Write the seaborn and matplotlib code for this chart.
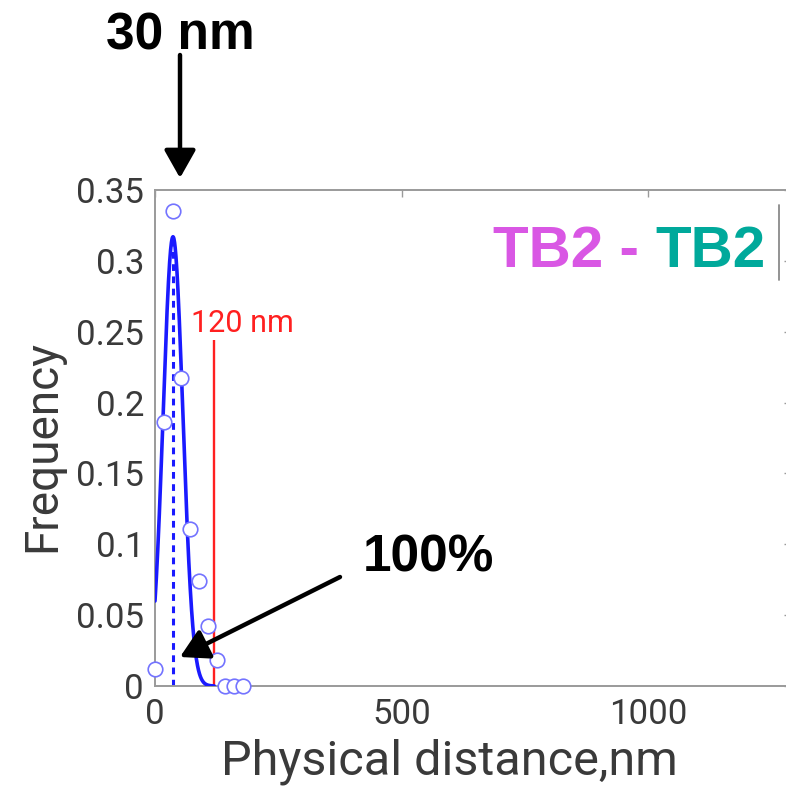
import numpy as np
import pandas as pd
import matplotlib
matplotlib.use("Agg")
import matplotlib.pyplot as plt
from matplotlib.lines import Line2D
import seaborn as sns

# Binned distance histogram (bin centre in nm, relative frequency)
bin_centers = [0, 18, 36, 53, 71, 89, 107, 125, 142, 160, 178]
frequencies = [0.012, 0.186, 0.335, 0.217, 0.111, 0.074, 0.042, 0.018, 0.0, 0.0, 0.0]

# Gaussian fit parameters
fit_amplitude = 0.317
fit_mean = 36.5
fit_sigma = 20.0

# Threshold marker
threshold_nm = 120
threshold_top = 0.244

x_ticks = [0, 500, 1000]
y_ticks = [0, 0.05, 0.1, 0.15, 0.2, 0.25, 0.3, 0.35]
y_tick_labels = ["0", "0.05", "0.1", "0.15", "0.2", "0.25", "0.3", "0.35"]

sns.set_theme(style="white")
plt.rcParams["font.family"] = ["Roboto", "DejaVu Sans"]

W, H = 786, 790
fig = plt.figure(figsize=(W / 100, H / 100), dpi=100)
ax = fig.add_axes([155 / W, 1 - 686 / H, (791 - 155) / W, (686 - 190) / H])

hist_df = pd.DataFrame({"distance": bin_centers, "frequency": frequencies})
fit_x = np.linspace(0, 120, 300)
fit_df = pd.DataFrame({
    "distance": fit_x,
    "frequency": fit_amplitude * np.exp(-(fit_x - fit_mean) ** 2 / (2 * fit_sigma ** 2)),
})

blue = "#1a1aff"
sns.lineplot(data=fit_df, x="distance", y="frequency", ax=ax, color=blue,
             lw=2.6, zorder=3)
ax.vlines(fit_mean, 0, fit_amplitude, colors=blue, linestyles=(0, (2.2, 1.8)),
          lw=2.2, zorder=2)
ax.vlines(threshold_nm, 0, threshold_top, colors="#ff2020", lw=1.7, zorder=2)
ax.text(74, 0.250, f"{threshold_nm} nm", color="#ff2020", fontsize=22,
        ha="left", va="baseline")

sns.scatterplot(data=hist_df, x="distance", y="frequency", ax=ax, marker="o",
                s=110, facecolor="white", edgecolor="#7373ff", linewidth=1.2,
                zorder=4, clip_on=False)

ax.set_xlim(0, (791 - 155) / 0.493)
ax.set_ylim(0, 0.35)
ax.set_xticks(x_ticks)
ax.set_xticklabels([str(v) for v in x_ticks])
ax.set_yticks(y_ticks)
ax.set_yticklabels(y_tick_labels)

for side in ["left", "right", "top", "bottom"]:
    ax.spines[side].set_color("#9a9a9a")
    ax.spines[side].set_linewidth(1.4)
ax.tick_params(axis="both", which="both", direction="in", length=5, width=1,
               color="#9a9a9a", labelsize=25, labelcolor="#3a3a3a",
               top=True, right=True)
ax.tick_params(axis="x", pad=9)
ax.tick_params(axis="y", pad=8)

ax.set_xlabel("Physical distance,nm", fontsize=35, color="#3a3a3a")
ax.set_ylabel("Frequency", fontsize=33, color="#3a3a3a")
ax.xaxis.set_label_coords((449 - 155) / 636, (686 - 762) / 496)
ax.xaxis.label.set_va("center")
ax.yaxis.set_label_coords((42 - 155) / 636, (686 - 446) / 496)
ax.yaxis.label.set_va("center")

# Figure-level annotations (pixel positions measured from the top-left)
def fx(px):
    return px / W

def fy(py):
    return 1 - py / H

bold = dict(family=["Liberation Sans", "DejaVu Sans"], weight="bold")
fig.text(fx(180), fy(50), "30 nm", fontsize=37, ha="center", va="baseline",
         color="black", **bold)
fig.text(fx(363), fy(572), "100%", fontsize=37, ha="left", va="baseline",
         color="black", **bold)
fig.text(fx(493), fy(267), "TB2 -", fontsize=42, ha="left", va="baseline",
         color="#d957e4", **bold)
fig.text(fx(655), fy(267), "TB2", fontsize=42, ha="left", va="baseline",
         color="#00a99b", **bold)

arrow_props = dict(arrowstyle="-|>,head_length=0.85,head_width=0.48",
                   mutation_scale=20, lw=3.2, color="black",
                   shrinkA=0, shrinkB=0)
fig.add_artist(matplotlib.patches.FancyArrowPatch(
    (fx(180), fy(55)), (fx(180), fy(178)), transform=fig.transFigure,
    **arrow_props))
fig.add_artist(matplotlib.patches.FancyArrowPatch(
    (fx(340), fy(577)), (fx(180), fy(657)), transform=fig.transFigure,
    **arrow_props))

fig.add_artist(Line2D([fx(779), fx(779)], [fy(205), fy(280)],
                      transform=fig.transFigure, color="#8a8a8a", lw=1.3))

fig.savefig("out.png", dpi=100)
